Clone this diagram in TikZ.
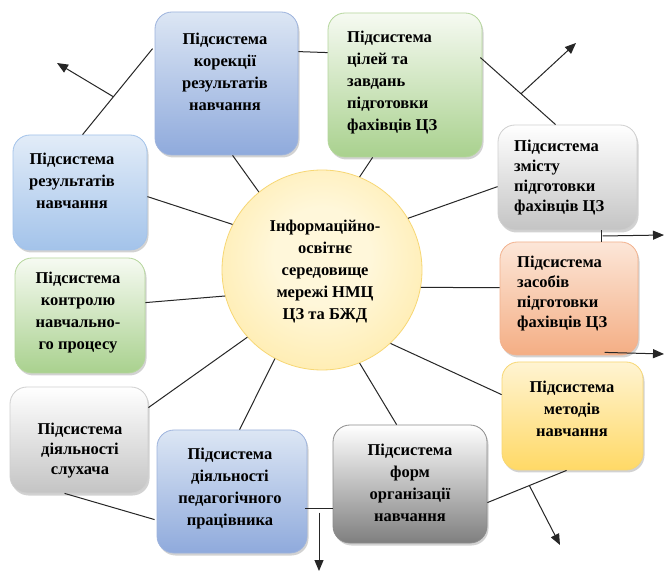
\documentclass[tikz,border=0pt]{standalone}
\usepackage{fontspec}
\setmainfont{Liberation Serif}
\usetikzlibrary{arrows.meta,shadows,calc}
\definecolor{blueT}{HTML}{DCE6F4}
\definecolor{blueB}{HTML}{8FAADC}
\definecolor{blueD}{HTML}{9DB3DD}
\definecolor{lblueT}{HTML}{E2ECF8}
\definecolor{lblueB}{HTML}{A3C3EA}
\definecolor{greenT}{HTML}{F6FAF2}
\definecolor{greenB}{HTML}{A9D18E}
\definecolor{greenD}{HTML}{B5D69C}
\definecolor{greyT}{HTML}{FFFFFF}
\definecolor{greyB}{HTML}{C4C4C4}
\definecolor{greyD}{HTML}{CFCFCF}
\definecolor{dgreyB}{HTML}{7F7F7F}
\definecolor{dgreyD}{HTML}{8C8C8C}
\definecolor{orT}{HTML}{FCE6D8}
\definecolor{orB}{HTML}{F4AE84}
\definecolor{orD}{HTML}{F2B28E}
\definecolor{yeT}{HTML}{FFF4D2}
\definecolor{yeB}{HTML}{FFD966}
\definecolor{yeD}{HTML}{F7D774}
\definecolor{ceIn}{HTML}{FFF7DA}
\definecolor{ceMid}{HTML}{FFEAA6}
\definecolor{ceOut}{HTML}{FFD966}
\pgfdeclareradialshading{centreshade}{\pgfpoint{0bp}{4bp}}{color(0bp)=(ceIn); color(12bp)=(ceIn); color(34bp)=(ceMid); color(50bp)=(ceOut); color(100bp)=(ceOut)}
\begin{document}
\begin{tikzpicture}[x=1pt,y=-1pt,
  sbox/.style={rounded corners=17pt, line width=0.8pt, inner sep=0pt,
    drop shadow={shadow xshift=1.5pt,shadow yshift=-2.5pt,opacity=0.35}},
  bluebox/.style={sbox, top color=blueT, bottom color=blueB, draw=blueD},
  lbluebox/.style={sbox, top color=lblueT, bottom color=lblueB, draw=lblueB},
  greenbox/.style={sbox, top color=greenT, bottom color=greenB, draw=greenD},
  greybox/.style={sbox, top color=greyT, bottom color=greyB, draw=greyD},
  dgreybox/.style={sbox, top color=greyT, bottom color=dgreyB, draw=dgreyD},
  orbox/.style={sbox, top color=orT, bottom color=orB, draw=orD},
  yebox/.style={sbox, top color=yeT, bottom color=yeB, draw=yeD},
  txt/.style={font=\bfseries\fontsize{16.5}{22}\selectfont, align=center, inner sep=0pt},
  ltxt/.style={txt, align=left, anchor=west},
  tight/.style={font=\bfseries\fontsize{16.5}{20}\selectfont},
  conn/.style={line width=1pt, draw=black!85},
  arr/.style={conn, -{Triangle[length=11pt,width=9pt]}}
]
\useasboundingbox (0,0) rectangle (665,572);
\fill[white] (0,0) rectangle (665,572);

% boxes
\node[bluebox, minimum width=143pt, minimum height=143pt] (k) at (226.5,83.5) {};
\node[greenbox, minimum width=154pt, minimum height=144pt] (ts) at (405,85) {};
\node[greybox, minimum width=139pt, minimum height=105pt] (zm) at (567.5,177.5) {};
\node[orbox, minimum width=138pt, minimum height=113pt] (zs) at (569,298.5) {};
\node[yebox, minimum width=141pt, minimum height=108pt] (mt) at (572.5,416) {};
\node[dgreybox, minimum width=154pt, minimum height=118pt] (fm) at (410,484) {};
\node[bluebox, minimum width=150pt, minimum height=123pt] (pd) at (232,491.5) {};
\node[greybox, minimum width=138pt, minimum height=106pt] (sl) at (79,440) {};
\node[greenbox, minimum width=130pt, minimum height=115pt] (kn) at (80,315.5) {};
\node[lbluebox, minimum width=134pt, minimum height=115pt] (rz) at (80,192.5) {};
\node[circle, minimum size=200pt, inner sep=0pt, shading=centreshade, draw=yeD, line width=0.8pt] (c) at (322,270) {};

% texts
\node[txt] (tk) at (225,72) {Підсистема\\корекції\\результатів\\навчання};
\node[ltxt] (tts) at (347,83) {Підсистема\\цілей та\\завдань\\підготовки\\фахівців ЦЗ};
\node[ltxt, tight] (tzm) at (514,178) {Підсистема\\змісту\\підготовки\\фахівців ЦЗ};
\node[ltxt, tight] (tzs) at (517,294) {Підсистема\\засобів\\підготовки\\фахівців ЦЗ};
\node[txt] (tmt) at (572,409) {Підсистема\\методів\\навчання};
\node[txt] (tfm) at (410,483) {Підсистема\\форм\\організації\\навчання};
\node[txt] (tpd) at (230,489) {Підсистема\\діяльності\\педагогічного\\працівника};
\node[txt, tight] (tsl) at (80,451) {Підсистема\\діяльності\\слухача};
\node[txt] (tkn) at (78,313) {Підсистема\\контролю\\навчально-\\го процесу};
\node[txt] (trz) at (72,181) {Підсистема\\результатів\\навчання};
\node[txt] (tc) at (325,272) {Інформаційно-\\освітнє\\середовище\\мережі НМЦ\\ЦЗ та БЖД};

% connection points
\coordinate (rzT) at ($(rz.north west)+(70,0)$);
\coordinate (kL) at ($(k.north west)+(-2,37)$);
\coordinate (tsR) at ($(ts.north east)+(-2,45)$);
\coordinate (zmT) at ($(zm.north west)+(58,0)$);
\coordinate (fmR) at ($(fm.north east)+(0,78)$);
\coordinate (mtB) at ($(mt.south west)+(65,0)$);
\coordinate (pdR) at ($(pd.north east)+(-2,79)$);
\coordinate (fmL) at ($(fm.north west)+(0,84)$);
\coordinate (zmB) at ($(zm.south west)+(104,0)$);
\coordinate (zsT) at ($(zs.north west)+(102,0)$);

% free ends of arrows
\coordinate (e1) at (57,63);
\coordinate (e2) at (576,43);
\coordinate (e3) at (664,235);
\coordinate (e4) at (664,354);
\coordinate (e5) at (560,545);
\coordinate (e6) at (319,571);

% connectors
\draw[conn] ($(k.south west)+(78,0)$) -- (c.129);
\draw[conn] ($(k.north east)+(0,40)$) -- ($(ts.north west)+(0,40)$);
\draw[conn] (rzT) -- (kL);
\draw[arr] ($(rzT)!0.44!(kL)$) -- (e1);
\draw[conn] ($(rz.north east)+(0,62)$) -- (c.153);
\draw[conn] ($(kn.north east)+(0,45)$) -- (c.-165);
\draw[conn] (tsR) -- (zmT);
\draw[arr] ($(tsR)!0.54!(zmT)$) -- (e2);
\draw[conn] ($(ts.south west)+(45,0)$) -- (c.68);
\draw[conn] ($(zm.north west)+(0,62)$) -- (c.31);
\draw[conn] (zmB) -- (zsT);
\draw[arr] ($(zmB)!0.5!(zsT)+(1,0)$) -- (e3);
\draw[arr] ($(zs.south west)+(105,-3)$) -- (e4);
\draw[conn] (c.-10.5) -- ($(zs.north west)+(0,46)$);
\draw[conn] (c.-47.8) -- ($(mt.north west)+(0,33)$);
\draw[conn] (c.-68.7) -- ($(fm.north west)+(64,0)$);
\draw[conn] (fmR) -- (mtB);
\draw[arr] ($(fmR)!0.53!(mtB)$) -- (e5);
\draw[conn] (pdR) -- (fmL);
\draw[arr] ($(pdR)!0.5!(fmL)+(0,4)$) -- (e6);
\draw[conn] ($(sl.south west)+(55,0)$) -- ($(pd.north west)+(-2,90)$);
\draw[conn] (c.-138) -- ($(sl.north east)+(0,21)$);
\draw[conn] (c.-118) -- ($(pd.north west)+(83,0)$);
\end{tikzpicture}
\end{document}
